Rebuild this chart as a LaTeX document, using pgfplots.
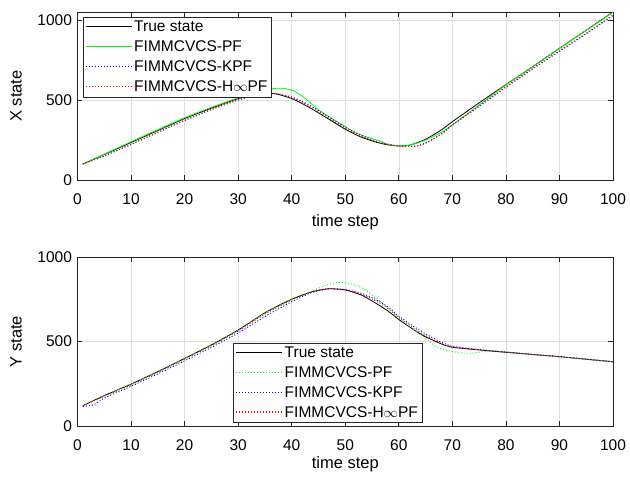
\documentclass[border=0pt]{standalone}
\usepackage{fontspec}
\setmainfont{Liberation Sans}
\usepackage{pgfplots}
\pgfplotsset{compat=1.18}
\definecolor{axgray}{gray}{0.15}
\definecolor{gridgray}{gray}{0.87}
\pgfplotsset{
  mystyle/.style={
    scale only axis,
    width=535.5bp,
    xmin=0, xmax=100,
    xtick={0,10,...,100},
    ytick={0,500,1000},
    grid=major,
    major grid style={gridgray, line width=0.6bp},
    axis line style={axgray, line width=0.7bp},
    every tick/.style={axgray, line width=0.7bp},
    major tick length=5bp,
    tick align=inside,
    /pgf/number format/assume math mode=true,
    /pgf/number format/1000 sep={},
    tick label style={font=\fontsize{15.5bp}{18bp}\selectfont},
    xticklabel style={yshift=-10bp},
    yticklabel style={xshift=-2bp},
    label style={font=\fontsize{16.5bp}{19bp}\selectfont},
    ylabel style={at={(axis description cs:-0.115,0.5)}, anchor=center},
    xlabel={time step},
    legend cell align=left,
    legend style={font=\fontsize{15.5bp}{18bp}\selectfont, draw=axgray, line width=0.6bp, fill=white, inner sep=2bp, row sep=3.5bp},
    legend image code/.code={\draw[##1, line width=1.1bp] (0bp,0.5bp) -- (46bp,0.5bp);},
  },
  dotline/.style={line width=0.9bp, dash pattern=on 1bp off 2bp},
}
\begin{document}
\begin{tikzpicture}
\path[use as bounding box] (0,0) rectangle (630bp,477bp);
\begin{axis}[mystyle, at={(77.5bp,297bp)}, anchor=south west,
  height=168bp, ymin=0, ymax=1052, ylabel={X state},
  xlabel style={at={(axis description cs:0.5,0)}, anchor=center, yshift=-42bp},
  legend style={at={(0.01,0.97)}, anchor=north west}]
\addplot[black, line width=0.8bp, smooth, tension=0.4] coordinates {(1,100)(5,160)(10,235)(15,310)(20,385)(25,450)(30,510)(33,535)(35,542)(37,540)(40,510)(43,460)(46,400)(50,318)(53,268)(56,235)(58,220)(60,213)(62,218)(65,255)(68,315)(70,365)(75,483)(80,597)(85,710)(90,824)(95,938)(100,1052)};
\addlegendentry{True state}
\addplot[green, line width=0.8bp, smooth, tension=0.4] coordinates {(1,100)(5,162)(10,240)(15,315)(20,390)(25,455)(30,515)(33,548)(36,570)(38,575)(40,563)(42,525)(45,440)(48,375)(50,335)(52,295)(54,270)(56,250)(57,238)(58,222)(60,214)(62,218)(65,250)(68,300)(70,345)(75,470)(80,595)(85,710)(90,825)(95,937)(100,1050)};
\addlegendentry{FIMMCVCS-PF}
\addplot[blue, dotline, smooth, tension=0.4] coordinates {(1,100)(5,150)(10,222)(15,298)(20,372)(25,440)(30,500)(33,528)(35,538)(37,540)(40,520)(43,475)(46,415)(50,330)(53,280)(56,240)(58,225)(60,213)(63,212)(65,232)(68,290)(70,345)(75,460)(80,580)(85,695)(90,805)(95,915)(100,1030)};
\addlegendentry{FIMMCVCS-KPF}
\addplot[red, dotline, smooth, tension=0.4] coordinates {(1,100)(5,152)(10,225)(15,300)(20,375)(25,445)(30,505)(33,532)(35,540)(37,542)(40,518)(43,468)(46,408)(50,325)(53,275)(56,238)(58,222)(60,213)(63,210)(65,230)(68,288)(70,343)(75,465)(80,585)(85,700)(90,810)(95,920)(100,1035)};
\addlegendentry{FIMMCVCS-H$\infty$PF}
\end{axis}
\begin{axis}[mystyle, at={(77.5bp,51bp)}, anchor=south west,
  height=169bp, ymin=0, ymax=1000, ylabel={Y state},
  xlabel style={at={(axis description cs:0.5,0)}, anchor=center, yshift=-38bp},
  legend style={at={(0.291,0.018)}, anchor=south west}]
\addplot[black, line width=0.8bp, smooth, tension=0.4] coordinates {(1,120)(5,180)(10,248)(15,322)(20,400)(25,480)(30,568)(35,670)(38,720)(40,750)(43,787)(45,803)(47,812)(50,805)(53,775)(55,740)(58,680)(60,630)(63,565)(65,528)(68,485)(70,466)(75,450)(80,436)(85,423)(90,410)(95,395)(100,380)};
\addlegendentry{True state}
\addplot[green, dotline, smooth, tension=0.4] coordinates {(1,120)(5,180)(10,248)(15,322)(20,400)(25,482)(30,568)(35,668)(40,750)(43,790)(45,815)(47,840)(49,850)(51,842)(53,820)(55,775)(58,700)(60,640)(63,565)(65,520)(67,470)(70,440)(73,430)(76,440)(78,445)(80,437)(85,423)(90,410)(95,395)(100,380)};
\addlegendentry{FIMMCVCS-PF}
\addplot[blue, dotline, smooth, tension=0.4] coordinates {(1,115)(3,125)(5,165)(10,235)(15,308)(20,385)(25,465)(30,550)(35,648)(40,735)(43,780)(45,800)(47,812)(50,808)(53,785)(55,760)(58,705)(60,650)(63,585)(65,545)(68,495)(70,472)(75,452)(80,438)(85,424)(90,411)(95,396)(100,381)};
\addlegendentry{FIMMCVCS-KPF}
\addplot[red, dotline, smooth, tension=0.4] coordinates {(1,120)(5,175)(10,243)(15,316)(20,395)(25,475)(30,562)(35,662)(40,745)(43,785)(45,803)(47,813)(50,805)(53,780)(55,752)(58,695)(60,642)(63,575)(65,535)(68,488)(70,468)(75,451)(80,437)(85,424)(90,410)(95,395)(100,380)};
\addlegendentry{FIMMCVCS-H$\infty$PF}
\end{axis}
\end{tikzpicture}
\end{document}
